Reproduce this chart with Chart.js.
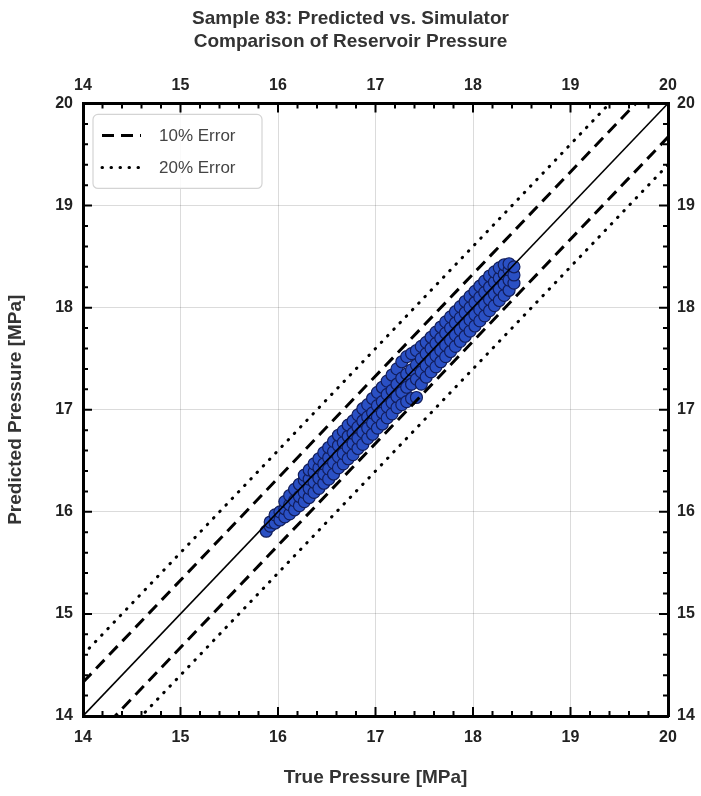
<!DOCTYPE html>
<html>
<head>
<meta charset="utf-8">
<script src="https://cdn.jsdelivr.net/npm/chart.js@4"></script>
<style>
  body { margin: 0; background: #fff; }
</style>
</head>
<body>
<canvas id="myChart" width="701" height="796"></canvas>
<script>
// axis range shared by both axes
const axisMin = 14;
const axisMax = 20;

// reference lines, evaluated at the two ends of the axis
const lineX = [14, 20];
const perfect = [14, 20];
const upper10 = [14.33, 20.33];
const lower10 = [13.67, 19.67];
const upper20 = [14.6, 20.6];
const lower20 = [13.4, 19.4];

// scatter cloud (one row per true-pressure column)
const trueP = [
  15.88,
  15.92, 15.92,
  15.97, 15.97,
  16.02, 16.02,
  16.07, 16.07, 16.07,
  16.12, 16.12, 16.12,
  16.17, 16.17, 16.17,
  16.22, 16.22, 16.22,
  16.27, 16.27, 16.27, 16.27,
  16.32, 16.32, 16.32, 16.32,
  16.37, 16.37, 16.37, 16.37,
  16.42, 16.42, 16.42, 16.42,
  16.47, 16.47, 16.47, 16.47,
  16.52, 16.52, 16.52, 16.52,
  16.57, 16.57, 16.57, 16.57,
  16.62, 16.62, 16.62, 16.62,
  16.67, 16.67, 16.67, 16.67,
  16.72, 16.72, 16.72, 16.72,
  16.77, 16.77, 16.77, 16.77,
  16.82, 16.82, 16.82, 16.82,
  16.87, 16.87, 16.87, 16.87,
  16.92, 16.92, 16.92, 16.92,
  16.97, 16.97, 16.97, 16.97,
  17.02, 17.02, 17.02, 17.02,
  17.07, 17.07, 17.07, 17.07,
  17.12, 17.12, 17.12, 17.12,
  17.17, 17.17, 17.17, 17.17,
  17.22, 17.22, 17.22, 17.22,
  17.27, 17.27, 17.27, 17.27,
  17.32, 17.32, 17.32, 17.32,
  17.37, 17.37, 17.37, 17.37,
  17.42, 17.42, 17.42, 17.42,
  17.47, 17.47, 17.47, 17.47,
  17.52, 17.52, 17.52, 17.52,
  17.57, 17.57, 17.57, 17.57,
  17.62, 17.62, 17.62, 17.62,
  17.67, 17.67, 17.67, 17.67,
  17.72, 17.72, 17.72, 17.72,
  17.77, 17.77, 17.77, 17.77,
  17.82, 17.82, 17.82, 17.82,
  17.87, 17.87, 17.87, 17.87,
  17.92, 17.92, 17.92, 17.92,
  17.97, 17.97, 17.97, 17.97,
  18.02, 18.02, 18.02, 18.02,
  18.07, 18.07, 18.07, 18.07,
  18.12, 18.12, 18.12, 18.12,
  18.17, 18.17, 18.17, 18.17,
  18.22, 18.22, 18.22, 18.22,
  18.27, 18.27, 18.27, 18.27,
  18.32, 18.32, 18.32, 18.32,
  18.37, 18.37, 18.37, 18.37,
  18.42, 18.42, 18.42
];
const predP = [
  15.81,
  15.86, 15.90,
  15.89, 15.97,
  15.92, 16.00,
  15.95, 16.03, 16.10,
  15.98, 16.07, 16.16,
  16.02, 16.11, 16.22,
  16.06, 16.15, 16.27,
  16.10, 16.19, 16.31, 16.36,
  16.14, 16.23, 16.32, 16.41,
  16.19, 16.29, 16.39, 16.47,
  16.23, 16.33, 16.43, 16.52,
  16.28, 16.37, 16.47, 16.58,
  16.32, 16.42, 16.53, 16.63,
  16.37, 16.48, 16.59, 16.69,
  16.43, 16.54, 16.65, 16.75,
  16.47, 16.57, 16.68, 16.79,
  16.52, 16.63, 16.74, 16.85,
  16.56, 16.67, 16.77, 16.89,
  16.62, 16.72, 16.83, 16.95,
  16.66, 16.78, 16.89, 17.01,
  16.72, 16.82, 16.93, 17.05,
  16.76, 16.87, 16.97, 17.11,
  16.82, 16.93, 17.04, 17.17,
  16.86, 16.97, 17.08, 17.22,
  16.92, 17.03, 17.15, 17.28,
  16.96, 17.07, 17.19, 17.34,
  17.02, 17.13, 17.25, 17.40,
  17.05, 17.17, 17.31, 17.47,
  17.08, 17.22, 17.35, 17.52,
  17.11, 17.25, 17.39, 17.55,
  17.12, 17.30, 17.44, 17.58,
  17.25, 17.37, 17.50, 17.62,
  17.32, 17.43, 17.55, 17.66,
  17.37, 17.48, 17.60, 17.71,
  17.42, 17.53, 17.65, 17.76,
  17.47, 17.58, 17.70, 17.81,
  17.52, 17.63, 17.75, 17.86,
  17.57, 17.68, 17.80, 17.91,
  17.62, 17.73, 17.85, 17.96,
  17.67, 17.78, 17.90, 18.01,
  17.72, 17.83, 17.95, 18.06,
  17.77, 17.88, 18.00, 18.11,
  17.82, 17.93, 18.05, 18.16,
  17.87, 17.98, 18.10, 18.21,
  17.92, 18.03, 18.15, 18.26,
  17.97, 18.08, 18.20, 18.31,
  18.02, 18.13, 18.25, 18.35,
  18.07, 18.18, 18.29, 18.39,
  18.12, 18.23, 18.33, 18.42,
  18.17, 18.27, 18.37, 18.43,
  18.24, 18.32, 18.40
];

const fontFam = "'Liberation Sans', Arial, sans-serif";

function pairs(xs, ys){
  return xs.map((x, i) => ({x: x, y: ys[i]}));
}

// inward tick marks on all four sides
const innerTicks = {
  id: 'innerTicks',
  afterDraw(chart){
    const ctx = chart.ctx;
    const a = chart.chartArea;
    const xs = chart.scales.x;
    const ys = chart.scales.y;
    ctx.save();
    ctx.strokeStyle = '#000';
    ctx.lineWidth = 2;
    for (let i = 0; i <= 30; i++){
      const v = axisMin + i * 0.2;
      const len = (i % 5 === 0) ? 9 : 5;
      const px = xs.getPixelForValue(v);
      const py = ys.getPixelForValue(v);
      ctx.beginPath();
      ctx.moveTo(px, a.bottom); ctx.lineTo(px, a.bottom - len);
      ctx.moveTo(px, a.top); ctx.lineTo(px, a.top + len);
      ctx.moveTo(a.left, py); ctx.lineTo(a.left + len, py);
      ctx.moveTo(a.right, py); ctx.lineTo(a.right - len, py);
      ctx.stroke();
    }
    ctx.restore();
  }
};

// legend box in the upper left corner
const cornerLegend = {
  id: 'cornerLegend',
  afterDatasetsDraw(chart){
    const ctx = chart.ctx;
    const a = chart.chartArea;
    const items = chart.data.datasets.filter(d => d.showInLegend);
    const bx = a.left + 10, by = a.top + 11, bw = 169, bh = 74;
    ctx.save();
    ctx.fillStyle = 'rgba(255,255,255,0.85)';
    ctx.strokeStyle = '#d4d4d4';
    ctx.lineWidth = 1.2;
    ctx.beginPath();
    ctx.roundRect(bx, by, bw, bh, 5);
    ctx.fill();
    ctx.stroke();
    items.forEach((d, i) => {
      const yy = by + 21 + i * 32;
      ctx.strokeStyle = '#000';
      ctx.lineWidth = d.borderWidth;
      ctx.lineCap = d.borderCapStyle || 'butt';
      ctx.setLineDash(d.borderDash);
      ctx.beginPath();
      ctx.moveTo(bx + 9, yy);
      ctx.lineTo(bx + 48, yy);
      ctx.stroke();
      ctx.setLineDash([]);
      ctx.fillStyle = '#444';
      ctx.font = '17px ' + fontFam;
      ctx.textBaseline = 'middle';
      ctx.fillText(d.label, bx + 66, yy + 1);
    });
    ctx.restore();
  }
};

const tickFont = {family: fontFam, size: 16, weight: 'bold'};
const titleFont = {family: fontFam, size: 19, weight: 'bold'};

const data = {
  datasets: [
    {
      type: 'line', label: 'y = x', data: pairs(lineX, perfect),
      borderColor: '#000', borderWidth: 1.6, pointRadius: 0, order: 0
    },
    {
      type: 'line', label: '10% Error', data: pairs(lineX, upper10), showInLegend: true,
      borderColor: '#000', borderWidth: 3, borderDash: [12, 7], pointRadius: 0, order: 0
    },
    {
      type: 'line', label: '10% Error lower', data: pairs(lineX, lower10),
      borderColor: '#000', borderWidth: 3, borderDash: [12, 7], pointRadius: 0, order: 0
    },
    {
      type: 'line', label: '20% Error', data: pairs(lineX, upper20), showInLegend: true,
      borderColor: '#000', borderWidth: 3, borderDash: [0.5, 8.5], borderCapStyle: 'round',
      pointRadius: 0, order: 0
    },
    {
      type: 'line', label: '20% Error lower', data: pairs(lineX, lower20),
      borderColor: '#000', borderWidth: 3, borderDash: [0.5, 8.5], borderCapStyle: 'round',
      pointRadius: 0, order: 0
    },
    {
      type: 'scatter', label: 'Samples', data: pairs(trueP, predP),
      backgroundColor: 'rgb(42, 80, 196)', borderColor: 'rgb(18, 30, 92)',
      borderWidth: 1.2, pointRadius: 6, order: 1
    }
  ]
};

const config = {
  type: 'scatter',
  data: data,
  options: {
    responsive: false,
    animation: false,
    devicePixelRatio: 1,
    layout: { padding: 0 },
    plugins: {
      legend: { display: false },
      tooltip: { enabled: false },
      title: {
        display: true,
        text: ['Sample 83: Predicted vs. Simulator', 'Comparison of Reservoir Pressure'],
        color: '#333',
        font: {family: fontFam, size: 19, weight: 'bold', lineHeight: 1.17},
        padding: {top: 8, bottom: 0}
      }
    },
    scales: {
      x: {
        type: 'linear', position: 'bottom', min: axisMin, max: axisMax,
        afterFit: s => { s.height = 80; },
        ticks: { stepSize: 1, color: '#222', font: tickFont, padding: 12 },
        grid: { color: 'rgba(0,0,0,0.14)', lineWidth: 1, drawTicks: false },
        border: { display: true, color: '#000', width: 3 },
        title: { display: true, text: 'True Pressure [MPa]', color: '#333', font: titleFont,
                 padding: {top: 0, bottom: 7} }
      },
      x2: {
        type: 'linear', position: 'top', min: axisMin, max: axisMax,
        afterFit: s => { s.height = 51; },
        ticks: { stepSize: 1, color: '#222', font: tickFont, padding: 8 },
        grid: { display: false, drawTicks: false },
        border: { display: true, color: '#000', width: 3 }
      },
      y: {
        type: 'linear', position: 'left', min: axisMin, max: axisMax,
        afterFit: s => { s.width = 83; },
        ticks: { stepSize: 1, color: '#222', font: tickFont, padding: 10 },
        grid: { color: 'rgba(0,0,0,0.14)', lineWidth: 1, drawTicks: false },
        border: { display: true, color: '#000', width: 3 },
        title: { display: true, text: 'Predicted Pressure [MPa]', color: '#333', font: titleFont,
                 padding: {top: 4, bottom: 0} }
      },
      y2: {
        type: 'linear', position: 'right', min: axisMin, max: axisMax,
        afterFit: s => { s.width = 33; },
        ticks: { stepSize: 1, color: '#222', font: tickFont, padding: 9 },
        grid: { display: false, drawTicks: false },
        border: { display: true, color: '#000', width: 3 }
      }
    }
  },
  plugins: [innerTicks, cornerLegend]
};

const myChart = new Chart(document.getElementById('myChart'), config);
</script>
</body>
</html>
